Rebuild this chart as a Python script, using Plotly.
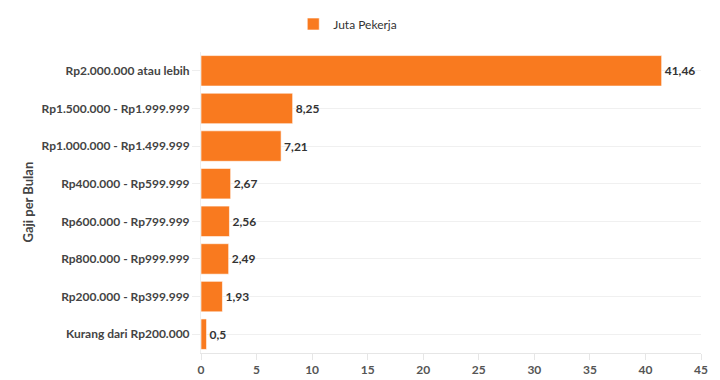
import plotly.graph_objects as go

categories = [
    "Rp2.000.000 atau lebih",
    "Rp1.500.000 - Rp1.999.999",
    "Rp1.000.000 - Rp1.499.999",
    "Rp400.000 - Rp599.999",
    "Rp600.000 - Rp799.999",
    "Rp800.000 - Rp999.999",
    "Rp200.000 - Rp399.999",
    "Kurang dari Rp200.000",
]
values = [41.46, 8.25, 7.21, 2.67, 2.56, 2.49, 1.93, 0.5]
x_ticks = [0, 5, 10, 15, 20, 25, 30, 35, 40, 45]
series_name = "Juta Pekerja"
y_title = "Gaji per Bulan"

labels = [f"{v:g}".replace(".", ",") for v in values]

FONT = "Lato, 'Source Sans Pro', sans-serif"
ORANGE = "#f97a1f"

fig = go.Figure(
    go.Bar(
        y=categories,
        x=values,
        orientation="h",
        name=series_name,
        marker=dict(color=ORANGE, line=dict(color="rgba(255,255,255,0.6)", width=1)),
        text=labels,
        textposition="outside",
        textfont=dict(family=FONT, size=12, color="#333333", weight="bold"),
        cliponaxis=False,
        showlegend=True,
    )
)

fig.update_layout(
    width=720,
    height=380,
    margin=dict(l=201, r=19, t=52, b=27, autoexpand=False),
    paper_bgcolor="white",
    plot_bgcolor="white",
    bargap=0.19,
    font=dict(family=FONT, color="#444444"),
    showlegend=True,
    legend=dict(
        orientation="h",
        xref="container",
        yref="container",
        x=0.483,
        xanchor="center",
        y=1 - 24 / 380,
        yanchor="middle",
        font=dict(family=FONT, size=12, color="#333333"),
        itemwidth=30,
        bgcolor="rgba(0,0,0,0)",
    ),
    xaxis=dict(
        range=[0, 45],
        tickvals=x_ticks,
        ticktext=[str(t) for t in x_ticks],
        automargin=False,
        showgrid=False,
        zeroline=False,
        showline=True,
        linecolor="#e6e6e6",
        linewidth=1,
        ticks="outside",
        ticklen=6,
        tickcolor="#e6e6e6",
        tickfont=dict(family=FONT, size=12, color="#555555", weight="bold"),
    ),
    yaxis=dict(
        categoryorder="array",
        categoryarray=categories,
        autorange="reversed",
        automargin=False,
        showgrid=True,
        gridcolor="#f0f0f0",
        gridwidth=1,
        zeroline=False,
        showline=True,
        linecolor="#eeeeee",
        ticks="outside",
        ticklen=8,
        tickcolor="#eeeeee",
        tickfont=dict(family=FONT, size=12, color="#444444", weight="bold"),
    ),
    annotations=[
        dict(
            text=y_title,
            xref="paper",
            yref="paper",
            x=(27 - 201) / 500,
            y=0.5,
            xanchor="center",
            yanchor="middle",
            textangle=-90,
            showarrow=False,
            font=dict(family=FONT, size=13, color="#444444", weight="bold"),
        )
    ],
)

fig.write_html(
    "out.html",
    config={"displayModeBar": False},
    post_script="document.body.style.margin='0';document.body.style.overflow='hidden';",
)
